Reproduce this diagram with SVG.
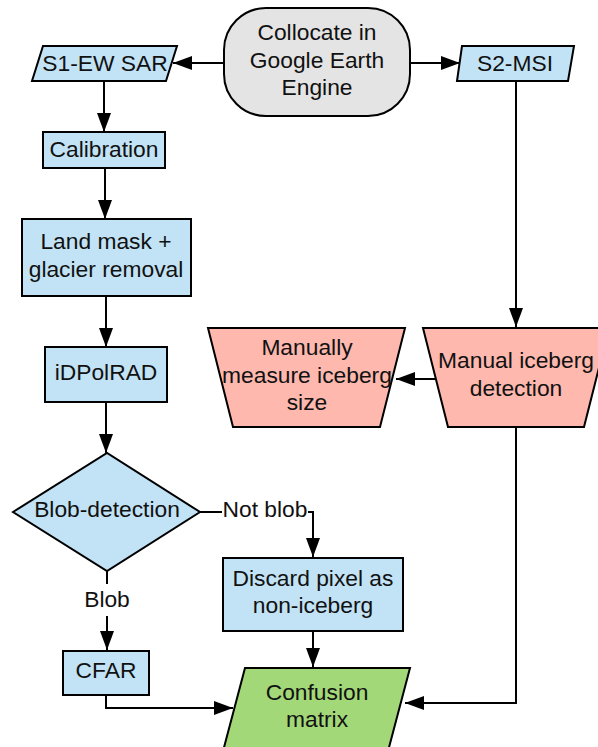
<svg xmlns="http://www.w3.org/2000/svg" width="598" height="747" viewBox="0 0 598 747">
<style>
.s{stroke:#000;stroke-width:2;}
.blue{fill:#c2e3f6;}
.pink{fill:#feb8ae;}
.green{fill:#a3d878;}
.gray{fill:#e4e4e4;}
text{font-family:"Liberation Sans",Arial,sans-serif;font-size:22.8px;fill:#111;text-anchor:middle;}
.c{fill:none;stroke:#000;stroke-width:2;}
</style>
<defs>
<marker id="ah" markerUnits="userSpaceOnUse" markerWidth="20" markerHeight="14" refX="19" refY="7" orient="auto">
<path d="M0,0 L19,7 L0,14 z" fill="#000"/>
</marker>
</defs>
<rect width="598" height="747" fill="#fff"/>
<g id="connectors">
<line class="c" x1="223" y1="63" x2="173" y2="63" marker-end="url(#ah)"/>
<line class="c" x1="410" y1="63" x2="460" y2="63" marker-end="url(#ah)"/>
<line class="c" x1="104" y1="81" x2="104" y2="132" marker-end="url(#ah)"/>
<line class="c" x1="105" y1="168" x2="105" y2="219" marker-end="url(#ah)"/>
<line class="c" x1="106" y1="296" x2="106" y2="347" marker-end="url(#ah)"/>
<line class="c" x1="106" y1="402" x2="106" y2="453" marker-end="url(#ah)"/>
<line class="c" x1="516" y1="81" x2="516" y2="327" marker-end="url(#ah)"/>
<line class="c" x1="436" y1="379" x2="396" y2="379" marker-end="url(#ah)"/>
<polyline class="c" points="516,427 516,703 405,703" marker-end="url(#ah)"/>
<polyline class="c" points="200,512 313,512 313,557" marker-end="url(#ah)"/>
<rect x="222" y="497" width="86" height="26" fill="#fff"/>
<text x="265" y="517">Not blob</text>
<line class="c" x1="107" y1="571" x2="107" y2="650" marker-end="url(#ah)"/>
<rect x="82" y="584" width="50" height="32" fill="#fff"/>
<text x="107" y="607">Blob</text>
<line class="c" x1="313" y1="631" x2="313" y2="667" marker-end="url(#ah)"/>
<polyline class="c" points="106,695 106,708 233,708" marker-end="url(#ah)"/>
</g>
<g id="collocate">
<rect class="s gray" x="224" y="8" width="186" height="108" rx="42" ry="42"/>
<text x="317" y="40">Collocate in</text>
<text x="317" y="67.5">Google Earth</text>
<text x="317" y="95">Engine</text>
</g>
<g id="s1">
<polygon class="s blue" points="43,46 177,46 166,81 32,81"/>
<text x="105" y="71">S1-EW SAR</text>
</g>
<g id="s2">
<polygon class="s blue" points="462,46 574,46 568,81 457,81"/>
<text x="515" y="71">S2-MSI</text>
</g>
<g id="calibration">
<rect class="s blue" x="43" y="132" width="122" height="36"/>
<text x="104" y="157">Calibration</text>
</g>
<g id="landmask">
<rect class="s blue" x="22" y="219" width="169" height="77"/>
<text x="106" y="249">Land mask +</text>
<text x="106" y="277">glacier removal</text>
</g>
<g id="idpolrad">
<rect class="s blue" x="45" y="347" width="122" height="55"/>
<text x="106" y="380">iDPolRAD</text>
</g>
<g id="measure">
<polygon class="s pink" points="208,328 405,328 380,427 233,427"/>
<text x="307" y="355">Manually</text>
<text x="307" y="383">measure iceberg</text>
<text x="307" y="410">size</text>
</g>
<g id="manualdetection">
<polygon class="s pink" points="423,328 609,328 584,427 448,427"/>
<text x="516" y="368">Manual iceberg</text>
<text x="516" y="396">detection</text>
</g>
<g id="blob">
<polygon class="s blue" points="13,512 107,453 200,512 107,571"/>
<text x="107" y="517">Blob-detection</text>
</g>
<g id="discard">
<rect class="s blue" x="223" y="558" width="180" height="73"/>
<text x="313" y="586">Discard pixel as</text>
<text x="313" y="613">non-iceberg</text>
</g>
<g id="cfar">
<rect class="s blue" x="63" y="651" width="86" height="44"/>
<text x="106" y="678">CFAR</text>
</g>
<g id="confusion">
<polygon class="s green" points="245,668 410,668 387,755 222,755"/>
<text x="317" y="700">Confusion</text>
<text x="317" y="727">matrix</text>
</g>
</svg>
